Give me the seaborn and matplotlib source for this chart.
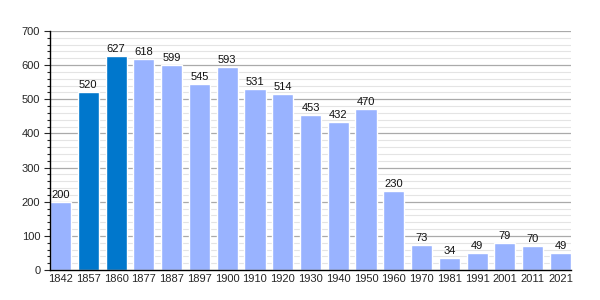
import matplotlib
matplotlib.use("Agg")
import matplotlib.pyplot as plt
import seaborn as sns
import pandas as pd

years = ["1842", "1857", "1860", "1877", "1887", "1897", "1900", "1910", "1920", "1930",
         "1940", "1950", "1960", "1970", "1981", "1991", "2001", "2011", "2021"]
population = [200, 520, 627, 618, 599, 545, 593, 531, 514, 453,
              432, 470, 230, 73, 34, 49, 79, 70, 49]
highlight = ["1857", "1860"]

light = "#99b3ff"
dark = "#0077cc"

df = pd.DataFrame({"year": years, "pop": population})
palette = {y: (dark if y in highlight else light) for y in years}

sns.set_style("white")
plt.rcParams['font.family'] = ['Liberation Sans', 'DejaVu Sans']

fig = plt.figure(figsize=(6, 3), dpi=100)
ax = fig.add_axes([0.0833, 0.1, 0.8684, 0.797])

ax.set_ylim(0, 700)
for v in range(20, 701, 20):
    if v % 100 == 0:
        ax.axhline(v, color="#aaaaaa", lw=0.9, zorder=0)
    else:
        ax.axhline(v, color="#e4e4e4", lw=0.8, zorder=0)

sns.barplot(data=df, x="year", y="pop", hue="year", palette=palette, legend=False,
            width=0.76, ax=ax, zorder=2, saturation=1)

for i, v in enumerate(population):
    ax.text(i, v + 6, str(v), ha="center", va="bottom", fontsize=8, color="#111111")

ax.set_xlim(-0.38, len(years) - 1 + 0.38)
ax.set_yticks(range(0, 701, 100))
ax.set_yticks(range(0, 701, 20), minor=True)
ax.tick_params(axis="y", which="major", length=4, width=0.8, labelsize=8, pad=3, left=True)
ax.tick_params(axis="y", which="minor", length=2, width=0.8, left=True)
ax.tick_params(axis="x", length=0, labelsize=8, pad=3)
ax.set_xlabel("")
ax.set_ylabel("")
for s in ["top", "right"]:
    ax.spines[s].set_visible(False)
for s in ["left", "bottom"]:
    ax.spines[s].set_color("black")
    ax.spines[s].set_linewidth(1)

fig.savefig("out.png", dpi=100)
